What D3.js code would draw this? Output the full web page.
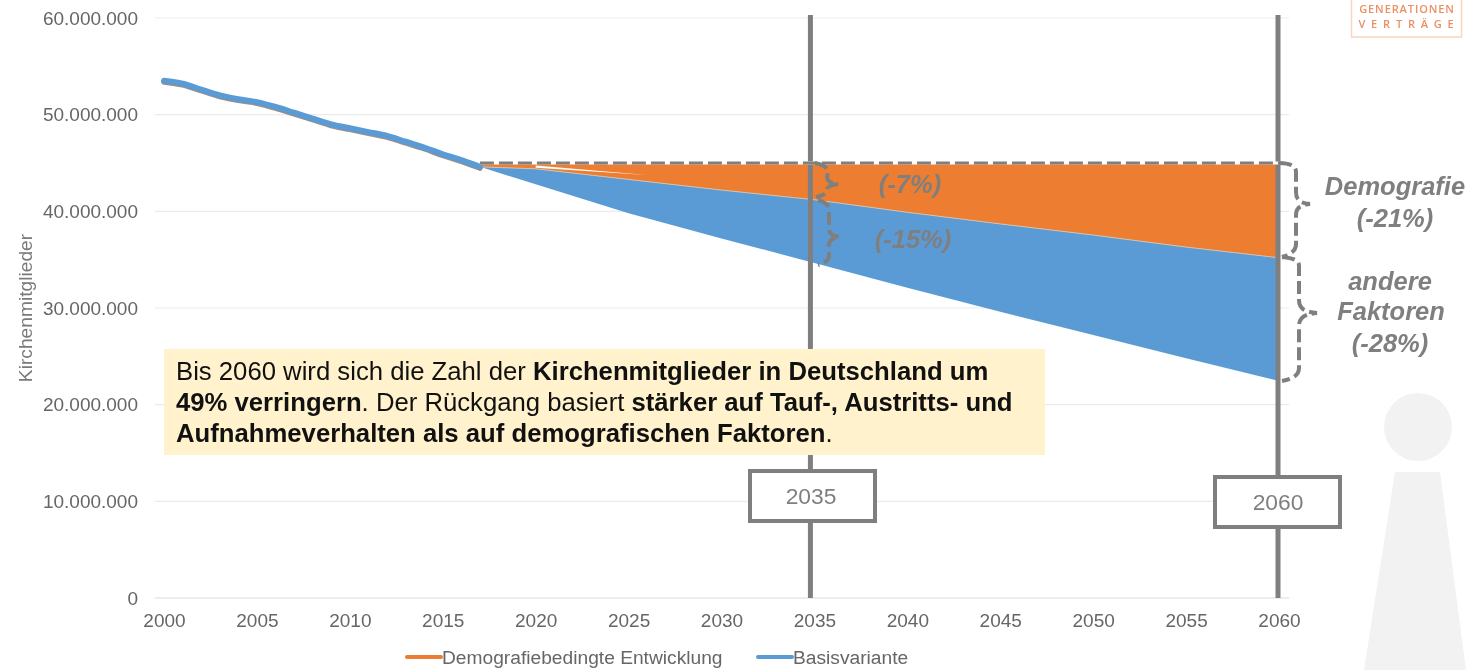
<!DOCTYPE html>
<html>
<head>
<meta charset="utf-8">
<title>Kirchenmitglieder</title>
<script src="https://cdn.jsdelivr.net/npm/d3@7"></script>
<style>
  html, body { margin: 0; padding: 0; background: #fff; }
  svg { display: block; font-family: "Liberation Sans", Arial, sans-serif; filter: blur(0.4px); }
</style>
</head>
<body>
<div id="chart"></div>
<script>
// values
const histYears = [2000, 2001, 2002, 2003, 2004, 2005, 2006, 2007, 2008, 2009, 2010, 2011, 2012, 2013, 2014, 2015, 2016, 2017];
const histValues = [53.5, 53.2, 52.6, 52.0, 51.6, 51.3, 50.8, 50.2, 49.6, 49.0, 48.6, 48.2, 47.8, 47.2, 46.6, 45.9, 45.3, 44.6];
const forecastYears = [2017, 2020, 2025, 2030, 2035, 2040, 2045, 2050, 2055, 2060];
const demografieValues = [44.6, 44.4, 43.3, 42.2, 41.2, 39.9, 38.7, 37.55, 36.3, 35.2];
const basisValues = [44.6, 42.8, 39.8, 37.2, 34.65, 32.1, 29.6, 27.2, 24.8, 22.45];
const referenceValue = 45;
const referenceYears = [2017, 2060];
const sliverYears = [2020, 2026, 2020];
const sliverValues = [44.75, 43.75, 44.5];
const yTicks = [0, 10, 20, 30, 40, 50, 60];
const xTicks = [2000, 2005, 2010, 2015, 2020, 2025, 2030, 2035, 2040, 2045, 2050, 2055, 2060];
const markerYears = [2035, 2060];

const width = 1470, height = 670;
const orange = "#ed7d31", blue = "#5b9bd5", annot = "#7f7f7f";

const svg = d3.select("#chart").append("svg")
  .attr("width", width)
  .attr("height", height);

const x = d3.scaleLinear().domain([2000, 2060]).range([164, 1279]);
const y = d3.scaleLinear().domain([0, 60]).range([598, 18]);

const fmt = d3.formatLocale({ decimal: ",", thousands: ".", grouping: [3], currency: ["", "€"] }).format(",d");

// person in the background
svg.append("circle")
  .attr("cx", 1418).attr("cy", 427).attr("r", 34)
  .attr("fill", "#f2f2f2");
svg.append("path")
  .attr("d", "M1395,472L1440,472L1466,670L1364,670Z")
  .attr("fill", "#f2f2f2");

// grid
svg.append("g").selectAll("line")
  .data(yTicks)
  .join("line")
  .attr("x1", 155)
  .attr("x2", 1289)
  .attr("y1", d => y(d))
  .attr("y2", d => y(d))
  .attr("stroke", d => d === 0 ? "#dcdcdc" : "#ebebeb")
  .attr("stroke-width", 1.2);

// Y axis
const yAxis = d3.axisLeft(y)
  .tickValues(yTicks)
  .tickFormat(d => d === 0 ? "0" : fmt(d * 1000000))
  .tickSize(0)
  .tickPadding(26);
const yAxisElement = svg.append("g")
  .attr("transform", "translate(164,0)")
  .call(yAxis);
yAxisElement.select(".domain").remove();
yAxisElement.selectAll("text")
  .attr("font-family", "Liberation Sans")
  .attr("font-size", 19)
  .attr("fill", "#666");

// X axis
const xAxis = d3.axisBottom(x)
  .tickValues(xTicks)
  .tickFormat(d3.format("d"))
  .tickSize(0)
  .tickPadding(16);
const xAxisElement = svg.append("g")
  .attr("transform", "translate(0,598)")
  .call(xAxis);
xAxisElement.select(".domain").remove();
xAxisElement.selectAll("text")
  .attr("font-family", "Liberation Sans")
  .attr("font-size", 19)
  .attr("fill", "#666");

svg.append("text")
  .attr("transform", "translate(32,308) rotate(-90)")
  .attr("text-anchor", "middle")
  .attr("font-size", 19.2)
  .attr("fill", "#7a7a7a")
  .text("Kirchenmitglieder");

// areas
const forecast = forecastYears.map((year, i) => ({ year, demografie: demografieValues[i], basis: basisValues[i] }));
const orangeArea = d3.area()
  .x(d => x(d.year))
  .y0(() => y(referenceValue))
  .y1(d => y(d.demografie));
const blueArea = d3.area()
  .x(d => x(d.year))
  .y0(d => y(d.demografie))
  .y1(d => y(d.basis));
svg.append("path").datum(forecast).attr("d", orangeArea).attr("fill", orange);
svg.append("path").datum(forecast).attr("d", blueArea).attr("fill", blue);
svg.append("path")
  .datum(forecast)
  .attr("d", d3.line().x(d => x(d.year)).y(d => y(d.demografie)))
  .attr("fill", "none")
  .attr("stroke", "#d8c0a8")
  .attr("stroke-width", 1);

// thin white gap just under the dashed line
svg.append("path")
  .datum(sliverYears.map((year, i) => [year, sliverValues[i]]))
  .attr("d", d3.line().x(d => x(d[0])).y(d => y(d[1])))
  .attr("fill", "#fff");

// history, the orange series sits just under the blue one
const hist = histYears.map((year, i) => ({ year, value: histValues[i] }));
const histLine = d3.line().x(d => x(d.year)).y(d => y(d.value)).curve(d3.curveMonotoneX);
svg.append("path")
  .datum(hist)
  .attr("d", histLine)
  .attr("transform", "translate(0,1.2)")
  .attr("fill", "none")
  .attr("stroke", "#a98c78")
  .attr("stroke-width", 5.5)
  .attr("stroke-linecap", "round");
svg.append("path")
  .datum(hist)
  .attr("d", histLine)
  .attr("fill", "none")
  .attr("stroke", blue)
  .attr("stroke-width", 6)
  .attr("stroke-linecap", "round");

// vertical markers
svg.append("g").selectAll("line")
  .data(markerYears)
  .join("line")
  .attr("x1", d => d === 2035 ? x(d) - 4 : x(d) - 1)
  .attr("x2", d => d === 2035 ? x(d) - 4 : x(d) - 1)
  .attr("y1", 15)
  .attr("y2", 598)
  .attr("stroke", annot)
  .attr("stroke-width", 5);

// dashed level line at the 2017 value
svg.append("path")
  .datum(referenceYears)
  .attr("d", d3.line().x(d => x(d)).y(() => y(referenceValue)))
  .attr("fill", "none")
  .attr("stroke", "#fff")
  .attr("stroke-width", 3);
svg.append("path")
  .datum(referenceYears)
  .attr("d", d3.line().x(d => x(d)).y(() => y(referenceValue)))
  .attr("fill", "none")
  .attr("stroke", annot)
  .attr("stroke-width", 3)
  .attr("stroke-dasharray", "14,5");

// braces
const braces = [
  "M815,163C822,164 827,167 828,172L827,177C827,181 830,183 838,184C830,185 827,187 827,190C826,194 822,196 816,197",
  "M818,200C825,202 829,205 829,210L829,228C829,234 832,236 840,237C832,238 829,240 829,245L829,256C829,260 825,263 818,265",
  "M1279,163C1290,163 1296,166 1296,172L1296,192C1296,200 1300,203 1310,204C1300,205 1296,208 1296,215L1296,244C1296,250 1292,254 1282,257",
  "M1282,257C1293,258 1299,260 1299,266L1299,300C1299,308 1304,312 1317,313C1304,314 1299,318 1299,326L1299,368C1299,375 1293,379 1282,381"
];
svg.append("g").selectAll("path")
  .data(braces)
  .join("path")
  .attr("d", d => d)
  .attr("fill", "none")
  .attr("stroke", annot)
  .attr("stroke-width", 4)
  .attr("stroke-dasharray", "13,5");

// labels next to the braces
const braceLabels = [
  { text: "(-7%)", cx: 910, by: 193 },
  { text: "(-15%)", cx: 913, by: 248 },
  { text: "Demografie", cx: 1395, by: 195 },
  { text: "(-21%)", cx: 1395, by: 227 },
  { text: "andere", cx: 1390, by: 290 },
  { text: "Faktoren", cx: 1391, by: 320 },
  { text: "(-28%)", cx: 1390, by: 352 }
];
svg.append("g").selectAll("text")
  .data(braceLabels)
  .join("text")
  .attr("x", d => d.cx)
  .attr("y", d => d.by)
  .attr("text-anchor", "middle")
  .attr("font-size", 25.5)
  .attr("font-weight", "bold")
  .attr("font-style", "italic")
  .attr("fill", annot)
  .text(d => d.text);

// year boxes
const yearBoxes = [
  { label: "2035", bx: 750, by: 471, tx: 811, ty: 504 },
  { label: "2060", bx: 1215, by: 477, tx: 1278, ty: 510 }
];
const boxG = svg.append("g").selectAll("g")
  .data(yearBoxes)
  .join("g");
boxG.append("rect")
  .attr("x", d => d.bx)
  .attr("y", d => d.by)
  .attr("width", 125)
  .attr("height", 50)
  .attr("fill", "#fff")
  .attr("stroke", annot)
  .attr("stroke-width", 4);
boxG.append("text")
  .attr("x", d => d.tx)
  .attr("y", d => d.ty)
  .attr("text-anchor", "middle")
  .attr("font-size", 22.8)
  .attr("fill", annot)
  .text(d => d.label);

// text box
svg.append("rect")
  .attr("x", 164).attr("y", 349)
  .attr("width", 881).attr("height", 106)
  .attr("fill", "#fff2cc");
const boxLines = [
  [["Bis 2060 wird sich die Zahl der ", false], ["Kirchenmitglieder in Deutschland um", true]],
  [["49% verringern", true], [". Der Rückgang basiert ", false], ["stärker auf Tauf-, Austritts- und", true]],
  [["Aufnahmeverhalten als auf demografischen Faktoren", true], [".", false]]
];
const boxText = svg.append("g").selectAll("text")
  .data(boxLines)
  .join("text")
  .attr("x", 176)
  .attr("y", (d, i) => 380 + i * 31)
  .attr("font-size", 25.7)
  .attr("fill", "#111");
boxText.selectAll("tspan")
  .data(d => d)
  .join("tspan")
  .attr("font-weight", d => d[1] ? "bold" : "normal")
  .text(d => d[0]);

// legend
const legendItems = [
  { label: "Demografiebedingte Entwicklung", color: orange, lx: 407 },
  { label: "Basisvariante", color: blue, lx: 758 }
];
const legend = svg.append("g").selectAll("g")
  .data(legendItems)
  .join("g");
legend.append("line")
  .attr("x1", d => d.lx)
  .attr("x2", d => d.lx + 34)
  .attr("y1", 657)
  .attr("y2", 657)
  .attr("stroke", d => d.color)
  .attr("stroke-width", 4)
  .attr("stroke-linecap", "round");
legend.append("text")
  .attr("x", d => d.lx + 35)
  .attr("y", 664)
  .attr("font-size", 19.2)
  .attr("fill", "#666")
  .text(d => d.label);

// logo, cut off at the top edge
svg.append("rect")
  .attr("x", 1351.5).attr("y", -5)
  .attr("width", 110).attr("height", 42)
  .attr("fill", "#fff")
  .attr("stroke", "#f8d5c0")
  .attr("stroke-width", 1.5);
svg.append("text")
  .attr("x", 1407).attr("y", 12.5)
  .attr("text-anchor", "middle")
  .attr("font-family", "Open Sans")
  .attr("font-size", 11)
  .attr("font-weight", 600)
  .attr("letter-spacing", 0.9)
  .attr("fill", "#ec8f62")
  .text("GENERATIONEN");
svg.append("text")
  .attr("x", 1409).attr("y", 28)
  .attr("text-anchor", "middle")
  .attr("font-family", "Open Sans")
  .attr("font-size", 11)
  .attr("font-weight", 600)
  .attr("letter-spacing", 5.8)
  .attr("fill", "#ec8f62")
  .text("VERTRÄGE");
</script>
</body>
</html>
